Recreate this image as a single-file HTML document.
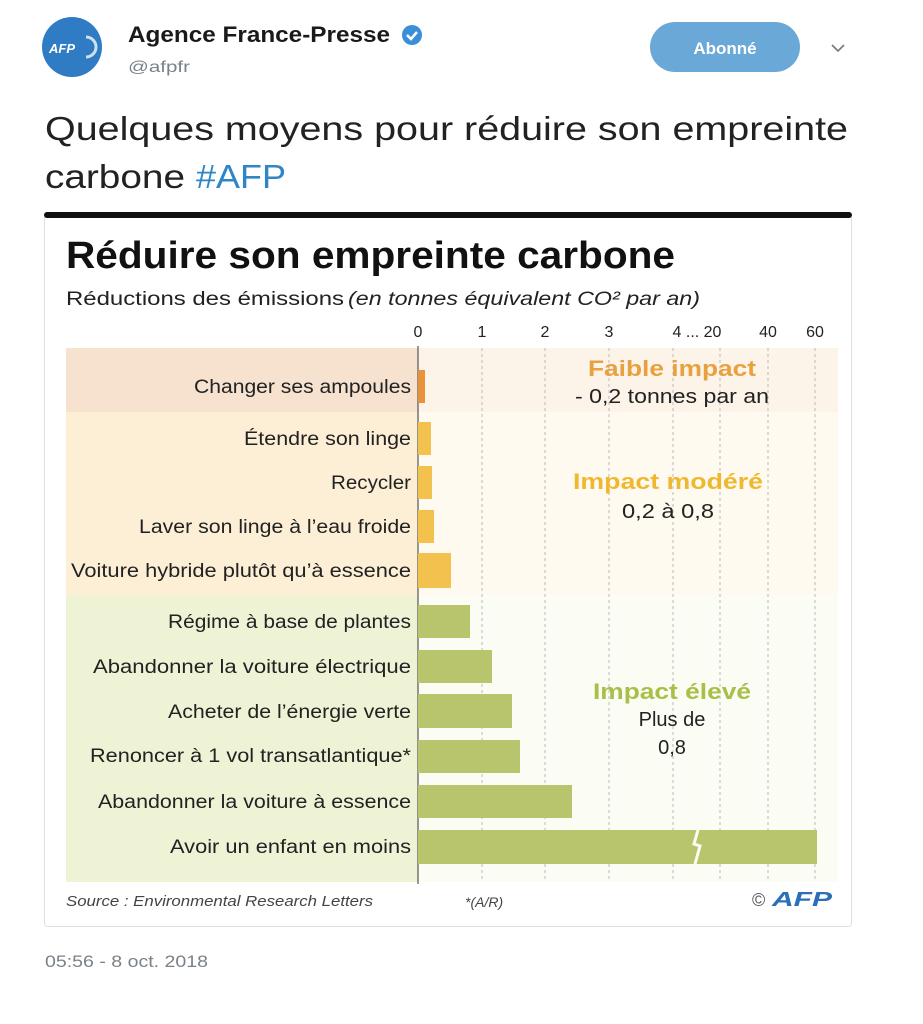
<!DOCTYPE html>
<html><head><meta charset="utf-8"><style>
html,body{margin:0;padding:0;background:#fff;}
svg{display:block;font-family:"Liberation Sans",sans-serif;}
</style></head><body>
<svg width="923" height="1024" viewBox="0 0 923 1024" xmlns="http://www.w3.org/2000/svg">
<rect width="923" height="1024" fill="#fff"/>
<!-- header -->
<circle cx="72" cy="47" r="30" fill="#2f7cc4"/>
<text x="49" y="53" font-size="13" font-weight="bold" font-style="italic" fill="#fff">AFP</text>
<path d="M86 37 a10 10 0 0 1 0 20" stroke="#cfe0f2" stroke-width="3" fill="none"/>
<text x="128" y="42" font-size="22" font-weight="bold" fill="#1a1a1a" textLength="262" lengthAdjust="spacingAndGlyphs">Agence France-Presse</text>
<circle cx="412" cy="35" r="10" fill="#3b8fd9"/>
<path d="M407 35 l4 4 l6 -7" stroke="#fff" stroke-width="2.5" fill="none"/>
<text x="128" y="72" font-size="16" fill="#7a8288" textLength="62" lengthAdjust="spacingAndGlyphs">@afpfr</text>
<rect x="650" y="22" width="150" height="50" rx="25" fill="#6aa8d8"/>
<text x="725" y="54" font-size="17" font-weight="bold" fill="#fff" text-anchor="middle">Abonné</text>
<path d="M832 45 l6 6 l6 -6" stroke="#777" stroke-width="1.6" fill="none"/>
<text x="45" y="140" font-size="33" fill="#222" textLength="803" lengthAdjust="spacingAndGlyphs">Quelques moyens pour réduire son empreinte</text>
<text x="45" y="188" font-size="33" fill="#222" textLength="140" lengthAdjust="spacingAndGlyphs">carbone</text>
<text x="196" y="188" font-size="33" fill="#2e86c7" textLength="90" lengthAdjust="spacingAndGlyphs">#AFP</text>
<!-- card -->
<rect x="44.5" y="214.5" width="807" height="712" rx="3" fill="#fff" stroke="#e0e0e0"/>
<rect x="44" y="212" width="808" height="6" rx="3" fill="#111"/>
<text x="66" y="268" font-size="38" font-weight="bold" fill="#111" textLength="609" lengthAdjust="spacingAndGlyphs">Réduire son empreinte carbone</text>
<text x="66" y="305" font-size="19" fill="#222" textLength="278" lengthAdjust="spacingAndGlyphs">Réductions des émissions</text>
<text x="348" y="305" font-size="19" font-style="italic" fill="#222" textLength="352" lengthAdjust="spacingAndGlyphs">(en tonnes équivalent CO² par an)</text>
<!-- bands -->
<rect x="66" y="348" width="352" height="64" fill="#f6e2cf"/>
<rect x="418" y="348" width="420" height="64" fill="#fcf3e9"/>
<rect x="66" y="412" width="352" height="183" fill="#fdefd6"/>
<rect x="418" y="412" width="420" height="183" fill="#fffaf0"/>
<rect x="66" y="595" width="352" height="287" fill="#eef3d6"/>
<rect x="418" y="595" width="420" height="287" fill="#fbfcf3"/>
<!-- grid -->
<g stroke="#bbb" stroke-width="1" stroke-dasharray="3,3">
<line x1="482" y1="348" x2="482" y2="882"/><line x1="545" y1="348" x2="545" y2="882"/>
<line x1="609" y1="348" x2="609" y2="882"/><line x1="673" y1="348" x2="673" y2="882"/>
<line x1="720" y1="348" x2="720" y2="882"/><line x1="768" y1="348" x2="768" y2="882"/>
<line x1="815" y1="348" x2="815" y2="882"/>
</g>
<line x1="418" y1="346" x2="418" y2="884" stroke="#555" stroke-width="1.2"/>
<g font-size="16" fill="#222" text-anchor="middle">
<text x="418" y="337">0</text><text x="482" y="337">1</text><text x="545" y="337">2</text>
<text x="609" y="337">3</text><text x="697" y="337">4 ... 20</text><text x="768" y="337">40</text><text x="815" y="337">60</text>
</g>
<!-- bars -->
<rect x="418" y="370" width="7" height="33" fill="#e8923a"/>
<g fill="#f2c14e">
<rect x="418" y="422" width="13" height="33"/><rect x="418" y="466" width="14" height="33"/>
<rect x="418" y="510" width="16" height="33"/><rect x="418" y="553" width="33" height="35"/>
</g>
<g fill="#b8c56c">
<rect x="418" y="605" width="52" height="33"/><rect x="418" y="650" width="74" height="33"/>
<rect x="418" y="694" width="94" height="34"/><rect x="418" y="740" width="102" height="33"/>
<rect x="418" y="785" width="154" height="33"/><rect x="418" y="830" width="399" height="34"/>
</g>
<path d="M698 830 l-4 14 l6 2 l-5 18" stroke="#fbfcf3" stroke-width="3" fill="none"/>
<!-- labels -->
<g font-size="19" fill="#222" text-anchor="end">
<text x="411" y="393" textLength="217" lengthAdjust="spacingAndGlyphs">Changer ses ampoules</text>
<text x="411" y="445" textLength="167" lengthAdjust="spacingAndGlyphs">Étendre son linge</text>
<text x="411" y="489" textLength="80" lengthAdjust="spacingAndGlyphs">Recycler</text>
<text x="411" y="533" textLength="272" lengthAdjust="spacingAndGlyphs">Laver son linge à l’eau froide</text>
<text x="411" y="577" textLength="340" lengthAdjust="spacingAndGlyphs">Voiture hybride plutôt qu’à essence</text>
<text x="411" y="628" textLength="243" lengthAdjust="spacingAndGlyphs">Régime à base de plantes</text>
<text x="411" y="673" textLength="318" lengthAdjust="spacingAndGlyphs">Abandonner la voiture électrique</text>
<text x="411" y="718" textLength="243" lengthAdjust="spacingAndGlyphs">Acheter de l’énergie verte</text>
<text x="411" y="762" textLength="321" lengthAdjust="spacingAndGlyphs">Renoncer à 1 vol transatlantique*</text>
<text x="411" y="808" textLength="313" lengthAdjust="spacingAndGlyphs">Abandonner la voiture à essence</text>
<text x="411" y="853" textLength="241" lengthAdjust="spacingAndGlyphs">Avoir un enfant en moins</text>
</g>
<g text-anchor="middle">
<text x="672" y="376" font-size="22" font-weight="bold" fill="#e9a03e" textLength="168" lengthAdjust="spacingAndGlyphs">Faible impact</text>
<text x="672" y="403" font-size="20" fill="#222" textLength="194" lengthAdjust="spacingAndGlyphs">- 0,2 tonnes par an</text>
<text x="668" y="489" font-size="22" font-weight="bold" fill="#f0b830" textLength="190" lengthAdjust="spacingAndGlyphs">Impact modéré</text>
<text x="668" y="518" font-size="20" fill="#222" textLength="92" lengthAdjust="spacingAndGlyphs">0,2 à 0,8</text>
<text x="672" y="699" font-size="22" font-weight="bold" fill="#a8bf48" textLength="158" lengthAdjust="spacingAndGlyphs">Impact élevé</text>
<text x="672" y="726" font-size="20" fill="#222">Plus de</text>
<text x="672" y="754" font-size="20" fill="#222">0,8</text>
</g>
<text x="66" y="906" font-size="15" font-style="italic" fill="#444" textLength="307" lengthAdjust="spacingAndGlyphs">Source : Environmental Research Letters</text>
<text x="465" y="907" font-size="14" font-style="italic" fill="#444">*(A/R)</text>
<text x="752" y="906" font-size="18" fill="#555">©</text>
<text x="772" y="906" font-size="20" font-weight="bold" font-style="italic" fill="#2a6fb8" textLength="60" lengthAdjust="spacingAndGlyphs">AFP</text>
<text x="45" y="967" font-size="17" fill="#7a8288" textLength="163" lengthAdjust="spacingAndGlyphs">05:56 - 8 oct. 2018</text>
</svg>
</body></html>
